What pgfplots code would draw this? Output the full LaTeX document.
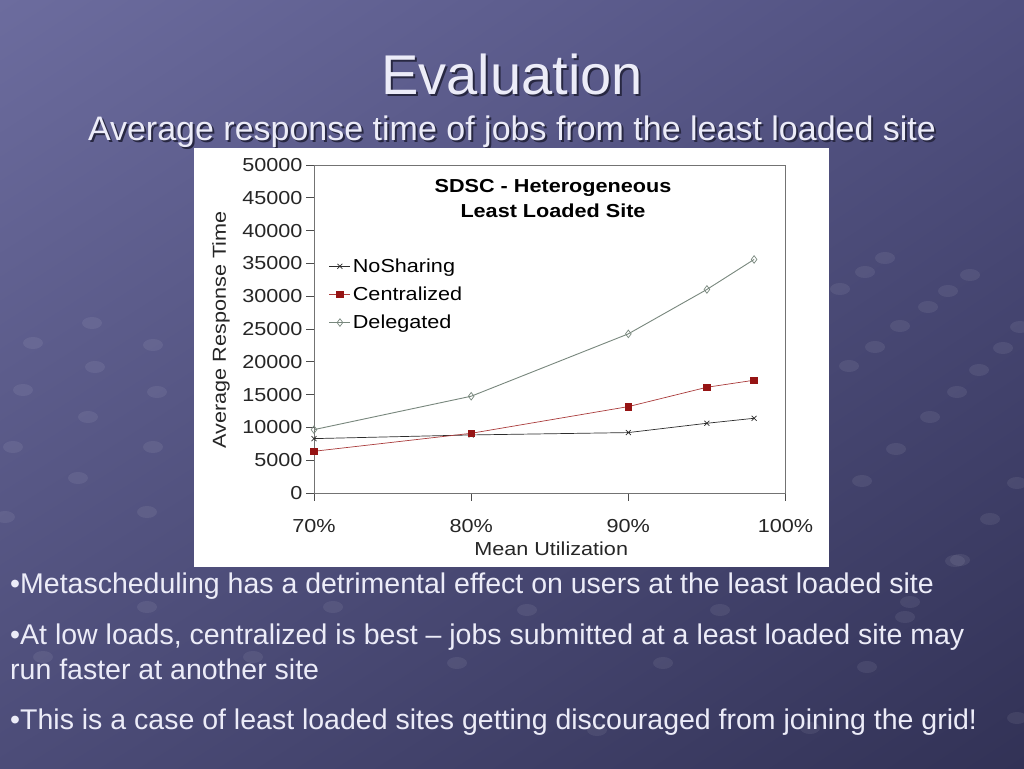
\documentclass[border=0pt]{standalone}
\usepackage{pgfplots}
\pgfplotsset{compat=1.18}
\usetikzlibrary{shadings}
\usepackage{fontspec}
\setmainfont{Liberation Sans}
\newfontfamily\chartfont{Liberation Sans}[FakeStretch=1.15]

\definecolor{bgUL}{RGB}{108,108,158}
\definecolor{bgUR}{RGB}{80,80,128}
\definecolor{bgLL}{RGB}{76,76,120}
\definecolor{bgLR}{RGB}{50,50,86}
\definecolor{slidetext}{RGB}{236,236,248}
\definecolor{shadowc}{RGB}{40,40,66}
\definecolor{nosharing}{RGB}{45,45,45}
\definecolor{central}{RGB}{150,20,20}
\definecolor{centralline}{RGB}{170,60,60}
\definecolor{delegated}{RGB}{120,135,125}

\begin{document}
\begin{tikzpicture}[x=1pt,y=1pt]
\useasboundingbox (0,0) rectangle (1024,768);
\clip (0,0) rectangle (1024,768);
% slide background
\shade[upper left=bgUL, upper right=bgUR, lower left=bgLL, lower right=bgLR]
  (0,0) rectangle (1024,768);
% faint decorative dots (positions, y from top)
\foreach \px/\py in {885/258,865/272,840/289,970/275,948/291,928/307,900/326,
  875/347,849/366,1020/327,1003/348,979/370,957/392,930/417,896/449,862/481,
  1017/483,990/519,955/561,910/602,92/323,33/343,153/345,95/367,23/390,
  157/392,88/417,13/447,153/447,78/478,5/517,147/512,147/607,333/607,43/657,
  253/657,457/663,527/610,720/610,905/617,663/663,867/667,1017/718,597/730,
  810/728,960/560}
  \fill[white,opacity=0.07] (\px,768-\py) ellipse (10 and 6);

% title and subtitle
\node[anchor=base,text=shadowc] at (514,768-97) {\fontsize{56}{60}\selectfont Evaluation};
\node[anchor=base,text=slidetext] at (512,768-95) {\fontsize{56}{60}\selectfont Evaluation};
\node[anchor=base,text=shadowc] at (514,768-143) {\fontsize{34}{38}\selectfont Average response time of jobs from the least loaded site};

% white chart area
\fill[white] (194,768-567) rectangle (829,768-148);
\node[anchor=base,text=slidetext] at (512,768-141) {\fontsize{34}{38}\selectfont Average response time of jobs from the least loaded site};

\begin{axis}[
    at={(314pt,275pt)}, anchor=south west,
    scale only axis, width=471.5pt, height=328pt,
    xmin=70, xmax=100, ymin=0, ymax=50000,
    xtick={70,80,90,100},
    xticklabels={70\%,80\%,90\%,100\%},
    ytick={0,5000,...,50000},
    scaled y ticks=false,
    xtick pos=bottom, ytick pos=left,
    tick align=outside, major tick length=8pt,
    axis line style={draw=black!55, line width=0.8pt},
    every tick/.style={black!70, line width=0.8pt},
    /pgf/number format/1000 sep={},
    /pgf/number format/assume math mode=true,
    ticklabel style={font=\chartfont\fontsize{18.8}{20}\selectfont, text=black!85},
    xticklabel style={yshift=-15pt},
    xlabel={Mean Utilization},
    ylabel={Average Response Time},
    label style={font=\chartfont\fontsize{18.8}{20}\selectfont, text=black!85},
    xlabel style={at={(axis description cs:0.503,-0.168)}, anchor=center, yshift=-1pt},
    ylabel style={at={(axis description cs:-0.197,0.497)}, anchor=center, rotate=0},
    legend style={at={(axis description cs:0.025,0.727)}, anchor=north west,
        draw=none, fill=none, font=\chartfont\fontsize{18.8}{20}\selectfont,
        row sep=9pt},
    legend cell align=left,
    legend image code/.code={\draw[mark repeat=2,mark phase=2,#1]
        plot coordinates {(0pt,0pt) (10.5pt,0pt) (21pt,0pt)};},
]
\addplot[color=nosharing, line width=0.7pt, mark=x, mark size=3.5pt,
    mark options={line width=0.7pt}]
coordinates {(70,8290)(80,8850)(90,9210)(95,10630)(98,11390)};
\addlegendentry{NoSharing}

\addplot[color=centralline, line width=0.7pt, mark=square*, mark size=3.3pt,
    mark options={draw=central, fill=central}]
coordinates {(70,6360)(80,9100)(90,13170)(95,16120)(98,17190)};
\addlegendentry{Centralized}

\addplot[color=delegated, line width=0.9pt, mark=diamond, mark size=3.8pt,
    mark options={fill=white, line width=0.7pt}]
coordinates {(70,9660)(80,14750)(90,24260)(95,31030)(98,35600)};
\addlegendentry{Delegated}
\end{axis}

% chart title
\node[anchor=base] at (553,768-193) {\chartfont\bfseries\fontsize{18.8}{20}\selectfont SDSC - Heterogeneous};
\node[anchor=base] at (553,768-218) {\chartfont\bfseries\fontsize{18.8}{20}\selectfont Least Loaded Site};

% bullet text
\begin{scope}[every node/.style={anchor=base west, text=slidetext, inner sep=0pt}]
\node at (10,768-594) {\fontsize{28.5}{32}\selectfont •Metascheduling has a detrimental effect on users at the least loaded site};
\node at (10,768-644) {\fontsize{28.5}{32}\selectfont •At low loads, centralized is best – jobs submitted at a least loaded site may};
\node at (10,768-679) {\fontsize{28.5}{32}\selectfont run faster at another site};
\node at (10,768-729) {\fontsize{28.5}{32}\selectfont •This is a case of least loaded sites getting discouraged from joining the grid!};
\end{scope}
\end{tikzpicture}
\end{document}
